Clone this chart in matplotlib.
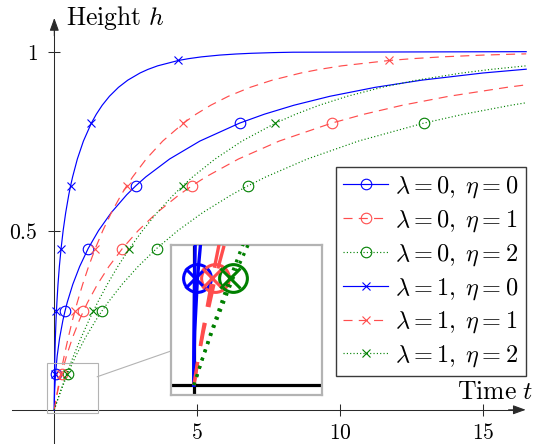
import numpy as np
import matplotlib
matplotlib.use("Agg")
import matplotlib.pyplot as plt
from matplotlib.lines import Line2D
from matplotlib.patches import Rectangle

plt.rcParams['mathtext.fontset'] = 'cm'
plt.rcParams['font.family'] = ['DejaVu Serif']
plt.rcParams['lines.scale_dashes'] = False

# ---------------- data ----------------
MARK_H = [0.1, 0.275, 0.45, 0.625, 0.8, 0.975]

# lambda = 0, eta = 0
l0e0_h = [0, 0.025, 0.05, 0.1, 0.15, 0.2, 0.25, 0.275, 0.3, 0.35, 0.4, 0.45, 0.5, 0.55, 0.6, 0.625,
          0.65, 0.7, 0.75, 0.8, 0.825, 0.85, 0.875, 0.9, 0.92, 0.94, 0.9506]
l0e0_t = [0, 0.003, 0.010, 0.043, 0.100, 0.185, 0.301, 0.373, 0.453, 0.646, 0.887, 1.183, 1.545,
          1.988, 2.530, 2.847, 3.199, 4.032, 5.090, 6.476, 7.344, 8.377, 9.636, 11.221, 12.846,
          14.987, 16.5]

# lambda = 0, eta = 1
l0e1_h = [0, 0.025, 0.05, 0.1, 0.15, 0.2, 0.25, 0.275, 0.3, 0.35, 0.4, 0.45, 0.5, 0.55, 0.6, 0.625,
          0.65, 0.7, 0.75, 0.8, 0.825, 0.85, 0.875, 0.9, 0.907]
l0e1_t = [0, 0.053, 0.113, 0.254, 0.425, 0.631, 0.876, 1.016, 1.166, 1.508, 1.909, 2.379, 2.931,
          3.585, 4.363, 4.809, 5.299, 6.440, 7.863, 9.695, 10.830, 12.171, 13.795, 15.826, 16.5]

# lambda = 0, eta = 2
l0e2_h = [0, 0.025, 0.05, 0.1, 0.15, 0.2, 0.25, 0.275, 0.3, 0.35, 0.4, 0.45, 0.5, 0.55, 0.6, 0.625,
          0.65, 0.7, 0.75, 0.8, 0.825, 0.85, 0.857]
l0e2_t = [0, 0.104, 0.215, 0.464, 0.750, 1.078, 1.452, 1.659, 1.880, 2.369, 2.930, 3.574, 4.318,
          5.182, 6.195, 6.770, 7.398, 8.848, 10.635, 12.914, 14.316, 15.965, 16.5]

# lambda = 1, eta = 0
l1e0_h = [0, 0.025, 0.05, 0.1, 0.15, 0.2, 0.25, 0.275, 0.3, 0.35, 0.4, 0.45, 0.5, 0.55, 0.6, 0.625,
          0.65, 0.7, 0.75, 0.8, 0.825, 0.85, 0.875, 0.9, 0.92, 0.94, 0.95, 0.96, 0.975, 0.98, 0.985,
          0.99, 0.993, 0.995, 0.997, 0.998, 0.9995]
l1e0_t = [0, 0.0005, 0.002, 0.009, 0.020, 0.037, 0.060, 0.075, 0.091, 0.129, 0.177, 0.237, 0.309,
          0.398, 0.506, 0.569, 0.640, 0.806, 1.018, 1.295, 1.469, 1.675, 1.927, 2.244, 2.569, 2.997,
          3.273, 3.614, 4.342, 4.691, 5.144, 5.784, 6.350, 6.885, 7.699, 8.347, 16.5]

# lambda = 1, eta = 1
l1e1_h = [0, 0.025, 0.05, 0.1, 0.15, 0.2, 0.25, 0.275, 0.3, 0.35, 0.4, 0.45, 0.5, 0.55, 0.6, 0.625,
          0.65, 0.7, 0.75, 0.8, 0.825, 0.85, 0.875, 0.9, 0.92, 0.94, 0.95, 0.96, 0.975, 0.98, 0.985,
          0.99, 0.993, 0.9934]
l1e1_t = [0, 0.051, 0.105, 0.219, 0.345, 0.483, 0.635, 0.718, 0.804, 0.991, 1.199, 1.432, 1.695,
          1.995, 2.339, 2.531, 2.740, 3.214, 3.791, 4.514, 4.955, 5.469, 6.086, 6.849, 7.620, 8.624,
          9.264, 10.052, 11.720, 12.515, 13.543, 14.994, 16.274, 16.5]

# lambda = 1, eta = 2
l1e2_h = [0, 0.025, 0.05, 0.1, 0.15, 0.2, 0.25, 0.275, 0.3, 0.35, 0.4, 0.45, 0.5, 0.55, 0.6, 0.625,
          0.65, 0.7, 0.75, 0.8, 0.825, 0.85, 0.875, 0.9, 0.92, 0.94, 0.95, 0.96]
l1e2_t = [0, 0.102, 0.207, 0.430, 0.670, 0.930, 1.211, 1.361, 1.517, 1.852, 2.220, 2.628, 3.082,
          3.592, 4.171, 4.492, 4.839, 5.622, 6.563, 7.733, 8.441, 9.263, 10.245, 11.454, 12.672,
          14.251, 15.256, 16.5]

labels = [r'$\lambda = 0,\; \eta = 0$', r'$\lambda = 0,\; \eta = 1$', r'$\lambda = 0,\; \eta = 2$',
          r'$\lambda = 1,\; \eta = 0$', r'$\lambda = 1,\; \eta = 1$', r'$\lambda = 1,\; \eta = 2$']

BLUE, RED, GREEN = '#0000ff', '#ff4d4d', '#008000'

series = [
    (l0e0_t, l0e0_h, BLUE, 'solid', 'o'),
    (l0e1_t, l0e1_h, RED, 'dashed', 'o'),
    (l0e2_t, l0e2_h, GREEN, 'dotted', 'o'),
    (l1e0_t, l1e0_h, BLUE, 'solid', 'x'),
    (l1e1_t, l1e1_h, RED, 'dashed', 'x'),
    (l1e2_t, l1e2_h, GREEN, 'dotted', 'x'),
]

W, H = 533, 444
X0PX, XS = 54.3, 28.6      # pixel of t=0, px per unit t
Y0PX, YS = 409.8, 358.3    # pixel of h=0, px per unit h

fig = plt.figure(figsize=(W / 100, H / 100), dpi=100)
ax = fig.add_axes([0, 0, 1, 1])
ax.set_xlim(-X0PX / XS, (W - X0PX) / XS)
ax.set_ylim(-(H - Y0PX) / YS, Y0PX / YS)
ax.set_facecolor('white')


def style(ls, scale=1.0):
    if ls == 'dashed':
        return dict(linestyle=(0, (6.5 * scale, 4.5 * scale)))
    if ls == 'dotted':
        return dict(linestyle=(0, (0.8 * scale, 1.6 * scale)))
    return dict(linestyle='-')


def mark_idx(h):
    return [i for i, v in enumerate(h) if any(np.isclose(v, m) for m in MARK_H)]


handles = []
for (t, h, c, ls, mk) in series:
    ms = 7.6 if mk == 'o' else 6.2
    ax.plot(t, h, color=c, lw=0.85, marker=mk, ms=ms, mfc='none', mew=0.8,
            markevery=mark_idx(h), zorder=3, **style(ls))
    handles.append(Line2D([], [], color=c, lw=0.85, marker=mk, ms=ms, mfc='none',
                          mew=0.8, **style(ls)))

# axes lines
AX_C = '#2a2a2a'
for s in ['top', 'right']:
    ax.spines[s].set_visible(False)
ax.spines['left'].set_position(('data', 0))
ax.spines['bottom'].set_position(('data', 0))
ax.spines['left'].set_color(AX_C)
ax.spines['bottom'].set_color(AX_C)
ax.spines['left'].set_linewidth(0.75)
ax.spines['bottom'].set_linewidth(0.75)
xmin_ax = (12 - X0PX) / XS
xmax_ax = (525.7 - X0PX) / XS
ytop_ax = (Y0PX - 18) / YS
ax.spines['bottom'].set_bounds(xmin_ax, xmax_ax - 0.3)
ax.spines['left'].set_bounds(ax.get_ylim()[0], ytop_ax - 0.03)
ax.annotate('', xy=(xmax_ax, 0), xytext=(xmax_ax - 0.6, 0),
            arrowprops=dict(arrowstyle='-|>,head_length=0.55,head_width=0.2', color=AX_C,
                            lw=0.75, shrinkA=0, shrinkB=0, mutation_scale=14))
ax.annotate('', xy=(0, ytop_ax), xytext=(0, ytop_ax - 0.05),
            arrowprops=dict(arrowstyle='-|>,head_length=0.55,head_width=0.2', color=AX_C,
                            lw=0.75, shrinkA=0, shrinkB=0, mutation_scale=14))

ax.set_xticks([5, 10, 15], labels=[r'$5$', r'$10$', r'$15$'])
ax.set_yticks([0.5, 1], labels=[r'$0.5$', r'$1$'])
ax.tick_params(direction='inout', length=8, width=0.75, color=AX_C, labelsize=15.5, pad=8.0)
ax.tick_params(axis='x', pad=4.8)

fig.text(65.7 / W, 1 - 25 / H, r'$\mathrm{Height}\ h$', fontsize=18.5, ha='left', va='baseline')
fig.text(456.7 / W, 1 - 399.3 / H, r'$\mathrm{Time}\ t$', fontsize=18.5, ha='left', va='baseline')

# zoom rectangle + connector
ix0, ix1 = -0.27, 1.52
iy0, iy1 = -0.0095, 0.131
ax.add_patch(Rectangle((ix0, iy0), ix1 - ix0, iy1 - iy0, fill=False, ec='#b3b3b3', lw=0.8, zorder=4))
fig.add_artist(Line2D([97.3 / W, 171 / W], [1 - 376.7 / H, 1 - 351 / H], color='#b3b3b3', lw=0.8))

# legend
leg = ax.legend(handles, labels, loc='upper right', bbox_to_anchor=(525.7 / W, 1 - 167.3 / H),
                bbox_transform=fig.transFigure, borderaxespad=0, fontsize=17.5, handlelength=1.85,
                handletextpad=0.28, labelspacing=0.33, borderpad=0.3, fancybox=False,
                edgecolor='#3a3a3a', framealpha=1)
leg.get_frame().set_linewidth(1.0)
leg.set_zorder(10)

# inset
axins = fig.add_axes([171 / W, 1 - 395.3 / H, 151.3 / W, 150.3 / H])
axins.set_zorder(6)
axins.set_facecolor('white')
axins.set_xlim(ix0, ix1)
axins.set_ylim(iy0, iy1)
axins.set_xticks([])
axins.set_yticks([])
for s in axins.spines.values():
    s.set_color('#b3b3b3')
    s.set_linewidth(1.6)
axins.axhline(0, color='black', lw=2.3, zorder=1)
axins.axvline(0, color='black', lw=2.3, zorder=1)
for (t, h, c, ls, mk) in series:
    ms = 20 if mk == 'o' else 14
    axins.plot(t, h, color=c, lw=2.4, marker=mk, ms=ms, mfc='none', mew=2.2,
               markevery=mark_idx(h), zorder=3, **style(ls, 2.6))

fig.savefig('out.png', dpi=100)
